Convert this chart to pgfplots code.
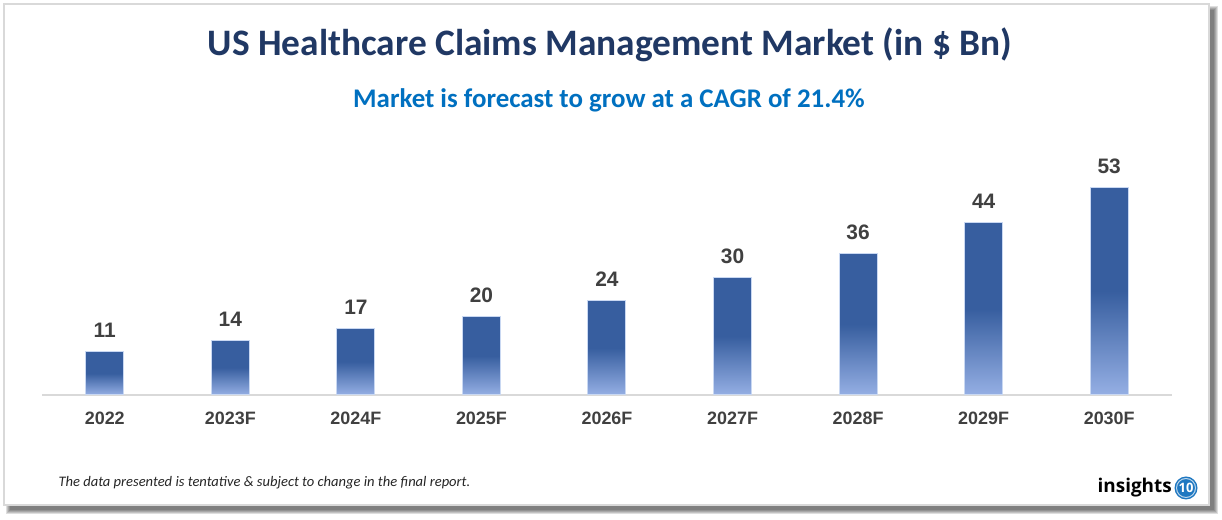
\documentclass[border=0pt]{standalone}
\usepackage{fontspec}
\setmainfont{Carlito}
\newfontfamily\arialfont{Liberation Sans}
\newfontfamily\logofont{Open Sans}
\usepackage{pgfplots}
\pgfplotsset{compat=1.18}
\definecolor{titlenavy}{HTML}{203864}
\definecolor{subblue}{HTML}{0070C0}
\definecolor{labelgray}{HTML}{404040}
\definecolor{axisgray}{HTML}{D9D9D9}
\definecolor{bardark}{HTML}{375E9F}
\definecolor{barlight}{HTML}{95AFE4}
\definecolor{barborder}{HTML}{C9D8F2}
\definecolor{logoblue}{HTML}{1F78C1}
\pgfdeclareverticalshading{barshade}{100bp}{color(0bp)=(barlight); color(25bp)=(barlight); color(50bp)=(bardark); color(75bp)=(bardark); color(100bp)=(bardark)}
\pgfplotsset{
  gradbar/.style={ybar, bar width=38bp, bar shift=0pt, draw=barborder, line width=1bp,
    shading=barshade}
}
\begin{document}
\begin{tikzpicture}[x=1bp,y=1bp]
% shadow
\foreach \i in {0,...,4} {
  \fill[black, opacity=0.13] ({10-\i}, {520-(10-\i)}) rectangle ({1214+\i}, {520-(510+\i)});
}
% panel
\fill[white] (4,516) rectangle (1209,15);
\draw[axisgray, line width=2bp] (4,516) rectangle (1209,15);
% titles
\node[font=\bfseries\fontsize{37.5}{42}\selectfont, text=titlenavy] at (610,475) {US Healthcare Claims Management Market (in \$ Bn)};
\node[font=\bfseries\fontsize{27}{30}\selectfont, text=subblue] at (609,420) {Market is forecast to grow at a CAGR of 21.4\%};
\begin{axis}[
  at={(42bp,125bp)}, anchor=south west,
  scale only axis, width=1130bp, height=250bp,
  xmin=-0.5, xmax=8.5, ymin=0, ymax=63.8,
  axis x line=bottom, axis y line=none,
  x axis line style={axisgray, line width=2bp, -},
  xtick={0,...,8},
  xticklabels={2022,2023F,2024F,2025F,2026F,2027F,2028F,2029F,2030F},
  major tick length=0pt,
  xticklabel style={font=\arialfont\bfseries\fontsize{18}{20}\selectfont, text=labelgray, anchor=base, yshift=-29.5bp},
  clip=false,
]
\addplot[gradbar] coordinates {(0,11)};
\addplot[gradbar] coordinates {(1,14)};
\addplot[gradbar] coordinates {(2,17)};
\addplot[gradbar] coordinates {(3,20)};
\addplot[gradbar] coordinates {(4,24)};
\addplot[gradbar] coordinates {(5,30)};
\addplot[gradbar] coordinates {(6,36)};
\addplot[gradbar] coordinates {(7,44)};
\addplot[gradbar] coordinates {(8,53)};
\addplot[draw=none, mark=none, nodes near coords,
  /pgf/number format/assume math mode=true,
  nodes near coords style={font=\arialfont\bfseries\fontsize{21}{24}\selectfont, text=labelgray, anchor=base, inner sep=0pt, yshift=14bp}]
  coordinates {(0,11) (1,14) (2,17) (3,20) (4,24) (5,30) (6,36) (7,44) (8,53)};
\end{axis}
% footer
\node[anchor=base west, font=\itshape\fontsize{14.6}{17}\selectfont, text=black!85] at (55,33) {The data presented is tentative \& subject to change in the final report.};
% logo
\node[anchor=base east, inner sep=0pt, font=\logofont\bfseries\fontsize{19}{22}\selectfont] at (1172,27) {insights};
\fill[logoblue] (1186,32) circle (11.5);
\draw[white!70!logoblue, line width=1bp] (1186,32) circle (9.5);
\node[text=white, inner sep=0pt, font=\logofont\bfseries\fontsize{13}{14}\selectfont] at (1186,32) {10};
\pgfresetboundingbox
\useasboundingbox (0,0) rectangle (1222,520);
\end{tikzpicture}
\end{document}
